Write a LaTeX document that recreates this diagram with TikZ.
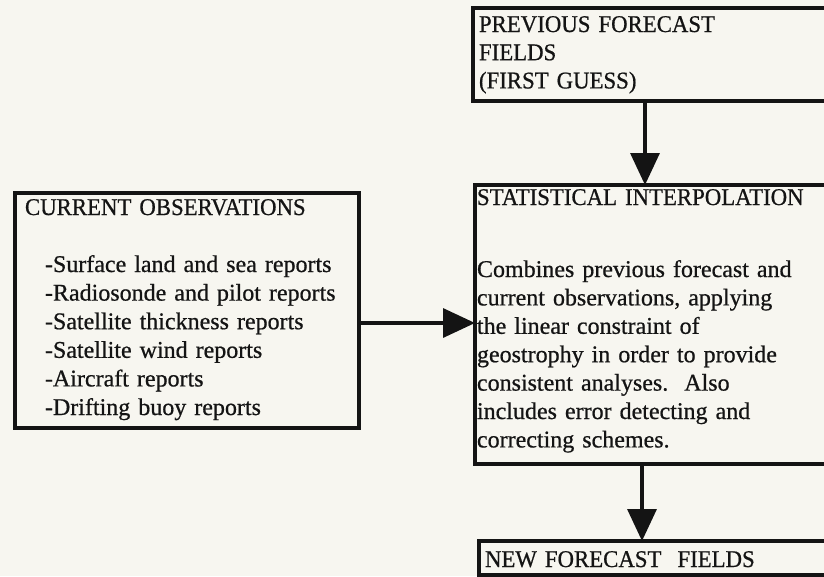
\documentclass[tikz,border=0pt]{standalone}
\usepackage{fontspec}
\setmainfont[FakeBold=0.7]{Liberation Serif}
\newfontfamily\capsfont[FakeStretch=0.95,FakeBold=0.7]{Liberation Serif}
\usetikzlibrary{arrows.meta}
\definecolor{paper}{RGB}{247,246,240}
\definecolor{ink}{RGB}{20,20,20}
\tikzset{
  box/.style={draw=ink, line width=3.2pt, inner sep=0pt, outer sep=0pt, anchor=north west},
  txt/.style={inner sep=0pt, outer sep=0pt, anchor=base west, align=left, text=ink,
    font=\fontsize{24}{28.4}\selectfont},
  captxt/.style={txt, font=\capsfont\fontsize{24}{28.2}\selectfont},
  conn/.style={draw=ink, line width=3.4pt, -{Triangle[width=29pt,length=32pt]}}
}
\begin{document}
\begin{tikzpicture}[x=1pt,y=-1pt]
\useasboundingbox (0,0) rectangle (824,576);
\clip (0,0) rectangle (824,576);
\fill[paper] (0,0) rectangle (824,576);
% boxes
\node[box, minimum width=367pt, minimum height=93pt] (prev) at (473,8) {};
\node[box, minimum width=344pt, minimum height=235pt] (obs) at (15,193) {};
\node[box, minimum width=367pt, minimum height=279pt] (stat) at (475,185) {};
\node[box, minimum width=367pt, minimum height=34pt] (new) at (479,541) {};
% texts
\node[captxt, text width=330pt] (prevtxt) at (479,32) {PREVIOUS FORECAST\\FIELDS\\(FIRST GUESS)};
\node[captxt, text width=320pt] (obshead) at (25,215) {CURRENT OBSERVATIONS};
\node[txt, text width=310pt, font=\fontsize{24}{28.6}\selectfont] (obslist) at (45,272) {-Surface land and sea reports\\-Radiosonde and pilot reports\\-Satellite thickness reports\\-Satellite wind reports\\-Aircraft reports\\-Drifting buoy reports};
\node[captxt, text width=340pt] (stathead) at (477,205) {STATISTICAL INTERPOLATION};
\node[txt, text width=345pt] (statbody) at (477,277) {Combines previous forecast and\\current observations, applying\\the linear constraint of\\geostrophy in order to provide\\consistent analyses.\ \ Also\\includes error detecting and\\correcting schemes.};
\node[captxt, text width=330pt] (newtxt) at (485,567) {NEW FORECAST\ \ FIELDS};
% connectors
\draw[conn] ([xshift=172pt]prev.south west) -- ([xshift=170pt]stat.north west);
\draw[conn] ([yshift=-130pt]obs.north east) -- ([yshift=-138pt]stat.north west);
\draw[conn] ([xshift=167pt]stat.south west) -- ([xshift=163pt]new.north west);
\end{tikzpicture}
\end{document}
